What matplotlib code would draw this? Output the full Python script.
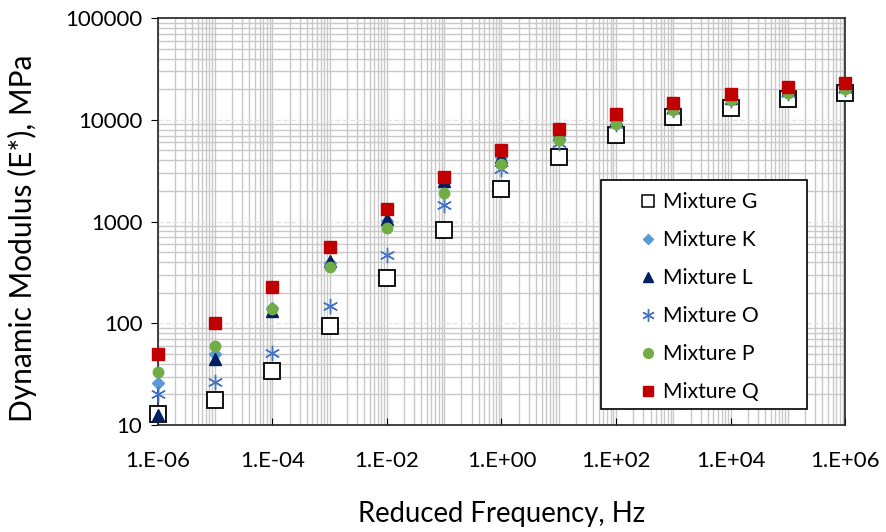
import numpy as np
import matplotlib
matplotlib.use('Agg')
import matplotlib.pyplot as plt
from matplotlib.patches import Rectangle
from matplotlib.ticker import LogLocator, FixedLocator, FuncFormatter, NullFormatter

plt.rcParams['font.family'] = ['Lato', 'DejaVu Sans']

freq = [1e-6, 1e-5, 1e-4, 1e-3, 1e-2, 1e-1, 1e0, 1e1, 1e2, 1e3, 1e4, 1e5, 1e6]

mix_G = [12.8, 17.6, 34, 94, 281, 832, 2110, 4270, 7030, 10600, 13200, 15900, 18200]
mix_K = [26, 50, 140, 390, 1020, 2370, 4270, 7000, 10000, 13200, 16200, 19000, 21000]
mix_L = [12.5, 45, 133, 410, 1070, 2480, 4360, 7200, 10300, 13500, 16500, 19900, 21700]
mix_O = [20, 26.5, 51, 149, 472, 1470, 3320, 5900, 9000, 12500, 15500, 18200, 20300]
mix_P = [33, 60, 139, 360, 871, 1890, 3720, 6300, 9200, 12600, 15500, 18200, 20300]
mix_Q = [50, 100, 230, 568, 1343, 2770, 5020, 8050, 11300, 14500, 17800, 20900, 22900]

fig = plt.figure(figsize=(8.86, 5.32), dpi=100)
ax = fig.add_axes([0.178, 0.201, 0.776, 0.765])

ax.plot(freq, mix_G, 's', ms=12, mfc='white', mec='black', mew=1.3, label='Mixture G', zorder=3, clip_on=False)
ax.plot(freq, mix_K, 'D', ms=6.5, color='#5B9BD5', label='Mixture K', zorder=3, clip_on=False)
ax.plot(freq, mix_L, '^', ms=8, color='#002060', label='Mixture L', zorder=3, clip_on=False)
ax.plot(freq, mix_O, marker=(6, 2, 0), ls='', ms=11, mew=1.0, color='#4472C4', label='Mixture O', zorder=3, clip_on=False)
ax.plot(freq, mix_P, 'o', ms=7.5, color='#70AD47', label='Mixture P', zorder=3, clip_on=False)
ax.plot(freq, mix_Q, 's', ms=8.5, color='#C00000', label='Mixture Q', zorder=3, clip_on=False)

ax.set_xscale('log')
ax.set_yscale('log')
ax.set_xlim(1e-6, 1e6)
ax.set_ylim(10, 100000)

ax.xaxis.set_major_locator(FixedLocator([10.0 ** k for k in range(-6, 7, 2)]))
ax.xaxis.set_major_formatter(FuncFormatter(lambda v, p: '1.E%+03d' % int(round(np.log10(v)))))
ax.xaxis.set_minor_locator(LogLocator(base=10, subs=np.arange(1, 10), numticks=50))
ax.xaxis.set_minor_formatter(NullFormatter())
ax.yaxis.set_major_locator(FixedLocator([10, 100, 1000, 10000, 100000]))
ax.yaxis.set_major_formatter(FuncFormatter(lambda v, p: '%d' % v))
ax.yaxis.set_minor_locator(LogLocator(base=10, subs=np.arange(2, 10), numticks=50))
ax.yaxis.set_minor_formatter(NullFormatter())

ax.grid(True, which='minor', color='#c8c8c8', lw=1.0)
ax.grid(True, which='major', axis='x', color='#c8c8c8', lw=1.0)
ax.grid(True, which='major', axis='y', color='#e4e4e4', lw=1.0, ls='--')
ax.set_axisbelow(True)

for s in ax.spines.values():
    s.set_color('#222222')
    s.set_linewidth(1.2)

ax.tick_params(axis='x', which='major', direction='in', length=5, labelsize=16, pad=19, color='black')
ax.tick_params(axis='y', which='major', direction='out', length=5, labelsize=16, pad=6, color='black')
ax.tick_params(which='minor', length=0)

ax.set_xlabel('Reduced Frequency, Hz', fontsize=19.8, labelpad=21)
fig.text(22 / 886, 1 - 238 / 532, 'Dynamic Modulus (E*), MPa', rotation=90,
         fontsize=21.5, ha='center', va='center')

# legend box drawn separately (Excel style padding)
ax.add_patch(Rectangle((0.645, 0.039), 0.3, 0.562, transform=ax.transAxes,
                       facecolor='white', edgecolor='black', lw=1.2, zorder=4))
leg = ax.legend(loc='upper left', bbox_to_anchor=(0.701, 0.572), fontsize=15.2, frameon=False,
                handletextpad=0.3, labelspacing=0.85, borderpad=0, handlelength=0.8,
                borderaxespad=0)
leg.set_zorder(5)
leg.legend_handles[0].set_markersize(9)
leg.legend_handles[0].set_markeredgewidth(1.1)
leg.legend_handles[1].set_markersize(5.5)
leg.legend_handles[2].set_markersize(7)
leg.legend_handles[3].set_markersize(9)
leg.legend_handles[4].set_markersize(7)
leg.legend_handles[5].set_markersize(7)

fig.savefig('out.png', dpi=100)
